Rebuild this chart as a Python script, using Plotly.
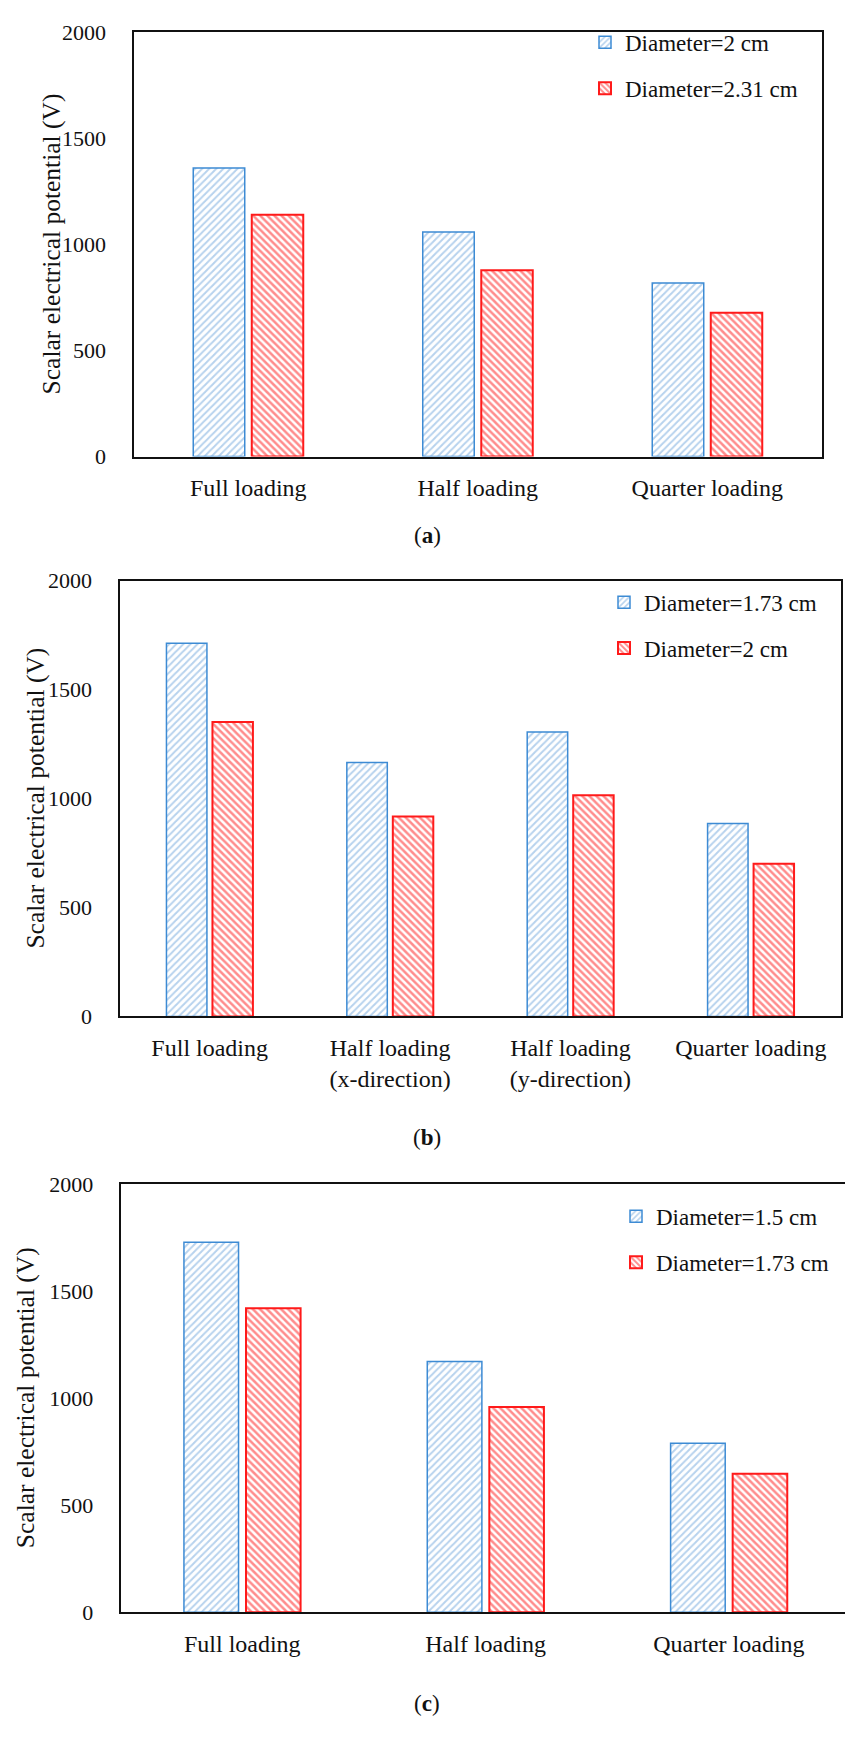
import plotly.graph_objects as go

# ---------------- data ----------------
cats_a = ["Full loading", "Half loading", "Quarter loading"]
a_d2 = [1360, 1058, 818]
a_d231 = [1140, 878, 678]
a_names = ["Diameter=2 cm", "Diameter=2.31 cm"]

cats_b = ["Full loading", "Half loading<br>(x-direction)", "Half loading<br>(y-direction)", "Quarter loading"]
b_d173 = [1713, 1165, 1306, 885]
b_d2 = [1351, 918, 1015, 701]
b_names = ["Diameter=1.73 cm", "Diameter=2 cm"]

cats_c = ["Full loading", "Half loading", "Quarter loading"]
c_d15 = [1728, 1171, 789]
c_d173 = [1420, 959, 647]
c_names = ["Diameter=1.5 cm", "Diameter=1.73 cm"]

y_ticks = [0, 500, 1000, 1500, 2000]
y_title = "Scalar electrical potential (V)"
captions = ["(<b>a</b>)", "(<b>b</b>)", "(<b>c</b>)"]

# ---------------- style ----------------
W, H = 845, 1744
FONT = "Liberation Serif"
BLUE_LINE = "#3d8bd4"
BLUE_PAT = "#6fa6dc"
RED = "#ff1a1a"


def px_x(v):
    return v / W


def px_y(v):
    return 1 - v / H


fig = go.Figure()


def add_pair(cats, v1, v2, names, xa, ya, leg):
    fig.add_trace(go.Bar(
        x=cats, y=v1, name=names[0], xaxis=xa, yaxis=ya, legend=leg,
        legendgroup=leg + "1",
        marker=dict(color="white", line=dict(color=BLUE_LINE, width=1.5),
                    pattern=dict(shape="/", fgcolor=BLUE_PAT, size=5, solidity=0.4)),
    ))
    fig.add_trace(go.Bar(
        x=cats, y=v2, name=names[1], xaxis=xa, yaxis=ya, legend=leg,
        legendgroup=leg + "2",
        marker=dict(color="white", line=dict(color=RED, width=2),
                    pattern=dict(shape="\\", fgcolor=RED, size=5, solidity=0.5)),
    ))


add_pair(cats_a, a_d2, a_d231, a_names, "x", "y", "legend")
add_pair(cats_b, b_d173, b_d2, b_names, "x2", "y2", "legend2")
add_pair(cats_c, c_d15, c_d173, c_names, "x3", "y3", "legend3")

panels = [
    # (x0, x1, top, bottom, xrange, mirror_y)
    (133.5, 822, 20.6, 451, [-0.5, 2.5], True),
    (119.5, 841, 577, 1019, [-0.5, 3.5], True),
    (120.6, 845, 1189, 1623.6, [-0.5, 2.477], False),
]

layout_axes = {}
for i, (x0, x1, top, bot, xr, mir) in enumerate(panels):
    sfx = "" if i == 0 else str(i + 1)
    layout_axes["xaxis" + sfx] = dict(
        domain=[px_x(x0), min(1.0, px_x(x1))], anchor="y" + sfx, range=xr,
        showline=True, linecolor="#111111", linewidth=2, mirror=True,
        ticks="", ticklabelstandoff=9, showgrid=False, zeroline=False,
        tickfont=dict(family=FONT, size=24, color="#111111"), fixedrange=True,
    )
    layout_axes["yaxis" + sfx] = dict(
        domain=[px_y(bot), px_y(top)], anchor="x" + sfx, range=[0, 2000],
        tickvals=y_ticks, showline=True, linecolor="#111111", linewidth=2,
        mirror=mir, ticks="", ticklabelstandoff=21, showgrid=False, zeroline=False,
        tickfont=dict(family=FONT, size=22, color="#111111"),
    )

fig.update_layout(**layout_axes)

legend_pos = [(585, 9), (604, 577), (616, 1200)]
legend_names = ["legend", "legend2", "legend3"]
leg_layout = {}
for name, (lx, ly) in zip(legend_names, legend_pos):
    leg_layout[name] = dict(
        x=px_x(lx), y=px_y(ly), xanchor="left", yanchor="top",
        font=dict(family=FONT, size=23, color="#111111"),
        bgcolor="rgba(0,0,0,0)", tracegroupgap=13, itemwidth=30,
        traceorder="grouped",
    )
fig.update_layout(**leg_layout)

annotations = []
title_pos = [(51, (20.6 + 451) / 2), (36, (577 + 1019) / 2), (25, (1189 + 1623.6) / 2)]
for tx, ty in title_pos:
    annotations.append(dict(
        text=y_title, x=px_x(tx), y=px_y(ty), xref="paper", yref="paper",
        xanchor="center", yanchor="middle", textangle=-90, showarrow=False,
        font=dict(family=FONT, size=25.5, color="#111111"),
    ))
cap_pos = [(427, 531), (427, 1142), (427, 1716)]
for cap, (cx, cy) in zip(captions, cap_pos):
    annotations.append(dict(
        text=cap, x=px_x(cx), y=px_y(cy), xref="paper", yref="paper",
        xanchor="center", yanchor="middle", showarrow=False,
        font=dict(family=FONT, size=23, color="#111111"),
    ))

fig.update_layout(
    width=W, height=H, margin=dict(l=0, r=0, t=0, b=0),
    paper_bgcolor="white", plot_bgcolor="white",
    barmode="group", bargap=0.49, bargroupgap=0.12,
    showlegend=True, annotations=annotations,
)

fig.write_html(
    "out.html",
    config={"displayModeBar": False},
    post_script="document.body.style.margin='0';document.body.style.overflow='hidden';",
)
